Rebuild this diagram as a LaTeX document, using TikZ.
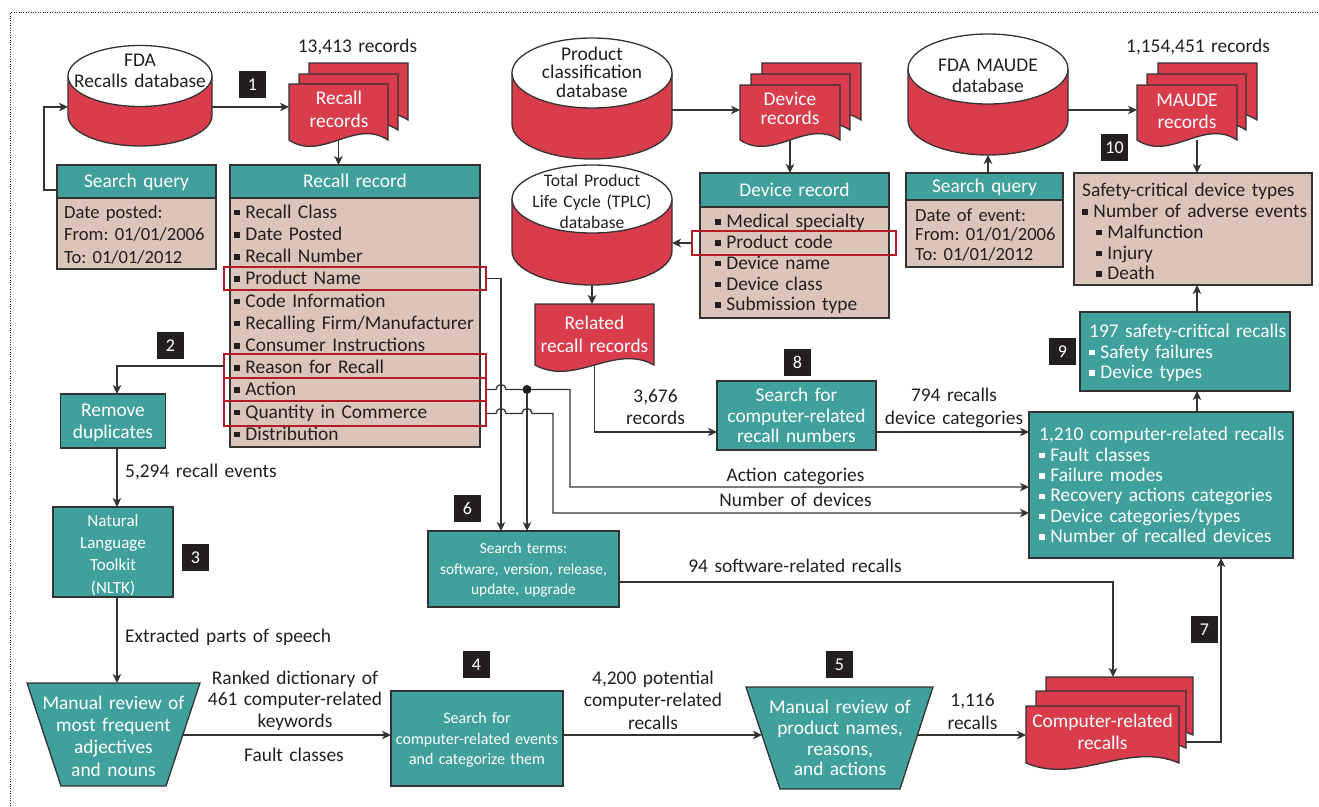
\documentclass[tikz,border=0pt]{standalone}
\usepackage{fontspec}
\setmainfont{Carlito}
\usetikzlibrary{arrows.meta,calc}
\definecolor{dbred}{RGB}{217,61,75}
\definecolor{teal2}{RGB}{64,160,156}
\definecolor{beige}{RGB}{219,197,186}
\definecolor{hlred}{RGB}{178,28,36}
\definecolor{lc}{RGB}{51,51,51}
\definecolor{tx}{RGB}{35,31,32}
\newcommand\fs[2]{\fontsize{#1}{#2}\selectfont}
\newcommand\bul{\rule[0.15em]{0.28em}{0.28em}\hspace{0.3em}}
\newcommand\tstrut{\rule[-0.22\baselineskip]{0pt}{\baselineskip}}
\newcommand\cyl[5]{%
  \fill[dbred] ({#1-#4},#2) -- ({#1-#4},#3) arc[start angle=180,end angle=360,x radius=#4pt,y radius=#5pt] -- ({#1+#4},#2) -- cycle;
  \draw[outl] ({#1-#4},#2) -- ({#1-#4},#3) arc[start angle=180,end angle=360,x radius=#4pt,y radius=#5pt] -- ({#1+#4},#2);
  \draw[outl,fill=white] (#1,#2) ellipse [x radius=#4pt, y radius=#5pt];}
\newcommand\docpage[4]{\draw[outl,fill=dbred] (#1,#3) -- (#2,#3) -- (#2,#4) .. controls ({#2-(#2-#1)/3},{#4-22}) and ({#1+(#2-#1)/3},{#4+22}) .. (#1,#4) -- cycle;}
\frenchspacing
\begin{document}
\begin{tikzpicture}[x=1pt,y=-1pt,
  outl/.style={draw=lc,line width=1.3pt},
  box0/.style={inner sep=0pt,outer sep=0pt},
  hdrbox/.style={box0,outl,fill=teal2},
  tbox/.style={box0,outl,fill=teal2},
  bbox/.style={box0,outl,fill=beige},
  hl/.style={box0,draw=hlred,line width=2pt},
  txt/.style={inner sep=0pt,text width=300pt,execute at begin node={\frenchspacing\tstrut},execute at end node=\tstrut,font=\fs{19.4}{22.2},text=tx},
  ctxt/.style={txt,align=center},
  ltxt/.style={txt,align=left,anchor=west},
  conn/.style={draw=lc,line width=1.3pt,-{Stealth[length=9pt,width=8.5pt,inset=2.5pt]}},
  num/.style={fill=tx,text=white,minimum size=27pt,inner sep=0pt,font=\fs{18}{18}},
  dot/.style={circle,fill=tx,inner sep=0pt,minimum size=9pt},
  ]
\useasboundingbox (0,0) rectangle (1319,806);
\draw[tx,line width=0.8pt,dash pattern=on 0.8pt off 1.6pt] (10.5,806) -- (10.5,12.5) -- (1319,12.5);

% ---------- databases
\cyl{140}{76}{115.5}{72}{30.5}
\node[box0,minimum width=144pt,minimum height=100pt] (fdadb) at (140,96) {};
\node[ctxt,font=\fs{19.4}{21}] (fdadbt) at (140,71.5) {FDA\\Recalls database};

\cyl{592}{73}{124}{80}{35}
\node[box0,minimum width=160pt,minimum height=121pt] (pcdb) at (592,98.5) {};
\node[ctxt,font=\fs{19.4}{18.5}] (pcdbt) at (592,73.5) {Product\\classification\\database};

\cyl{592}{199}{251}{80}{34}
\node[box0,minimum width=160pt,minimum height=120pt] (tplcdb) at (592,225) {};
\node[ctxt,font=\fs{17.6}{21}] (tplcdbt) at (592,202) {Total Product\\Life Cycle (TPLC)\\database};

\cyl{988}{69}{120}{80}{35}
\node[box0,minimum width=160pt,minimum height=121pt] (maudedb) at (988,94.5) {};
\node[ctxt,font=\fs{19.4}{21}] (maudedbt) at (988,76.5) {FDA MAUDE\\database};

% ---------- documents
\docpage{309}{408}{63}{120}
\docpage{299}{398}{74}{130}
\docpage{289}{388}{84}{140}
\node[box0,minimum width=99pt,minimum height=66pt] (recdoc) at (338.5,107) {};
\node[ctxt,text=white,font=\fs{19.4}{23}] (recdoct) at (339,109.5) {Recall\\records};
\node[ctxt] (l13) at (357.5,46.5) {13,413 records};

\docpage{762}{861}{63}{120}
\docpage{751}{850}{74}{130}
\docpage{740}{840}{85}{140}
\node[box0,minimum width=100pt,minimum height=60pt] (devrec) at (790,110) {};
\node[ctxt,text=white,font=\fs{19.4}{18.5}] (devrect) at (790,110) {Device\\records};

\docpage{1158}{1257}{63}{120}
\docpage{1147}{1246}{74}{130}
\docpage{1137}{1237}{85}{140}
\node[box0,minimum width=100pt,minimum height=60pt] (mauderec) at (1187,110) {};
\node[ctxt,text=white,font=\fs{19.4}{22}] (mauderect) at (1187,111) {MAUDE\\records};
\node[ctxt] (l1154) at (1198,46) {1,154,451 records};

\docpage{535}{654}{304}{365}
\node[box0,minimum width=119pt,minimum height=61pt] (relrec) at (594.5,334.5) {};
\node[ctxt,text=white,font=\fs{19.4}{23}] (relrect) at (594.5,334.5) {Related\\recall records};

\docpage{1046}{1193}{677}{735}
\docpage{1036}{1186}{691}{748}
\docpage{1026}{1179}{706}{763}
\node[box0,minimum width=147pt,minimum height=58pt] (comprecC) at (1119.5,706) {};
\node[box0,minimum width=150pt,minimum height=57pt] (comprecB) at (1111,719.5) {};
\node[box0,minimum width=153pt,minimum height=57pt] (comprec) at (1102.5,734.5) {};
\node[ctxt,text=white,font=\fs{19.4}{22}] (comprect) at (1102.5,732) {Computer-related\\recalls};

% ---------- record boxes
\node[hdrbox,minimum width=159pt,minimum height=33pt] (sq1h) at (136.5,181.5) {};
\node[ctxt,text=white] (sq1ht) at (136.5,181.5) {Search query};
\node[bbox,minimum width=159pt,minimum height=71pt] (sq1b) at (136.5,233.5) {};
\node[ltxt,font=\fs{18.6}{22.5}] (sq1bt) at (64,234.5) {Date posted:\\From: 01/01/2006\\To: 01/01/2012};

\node[hdrbox,minimum width=250pt,minimum height=33pt] (rrh) at (355,181.5) {};
\node[ctxt,text=white] (rrht) at (355,181.5) {Recall record};
\node[bbox,minimum width=250pt,minimum height=249pt] (rrb) at (355,322.5) {};
\node[ltxt] (rrbt) at (234,323) {\bul Recall Class\\\bul Date Posted\\\bul Recall Number\\\bul Product Name\\\bul Code Information\\\bul Recalling Firm/Manufacturer\\\bul Consumer Instructions\\\bul Reason for Recall\\\bul Action\\\bul Quantity in Commerce\\\bul Distribution};
\node[hl,minimum width=262pt,minimum height=23.5pt] (hlpn) at (355,278.5) {};
\node[hl,minimum width=262pt,minimum height=24pt] (hlrsn) at (355,366) {};
\node[hl,minimum width=262pt,minimum height=23pt] (hlact) at (355,389.5) {};
\node[hl,minimum width=262pt,minimum height=25pt] (hlqty) at (355,413.5) {};

\node[hdrbox,minimum width=189pt,minimum height=34pt] (drh) at (794.5,190) {};
\node[ctxt,text=white] (drht) at (794.5,190) {Device record};
\node[bbox,minimum width=189pt,minimum height=111pt] (drb) at (794.5,262.5) {};
\node[ltxt,font=\fs{19.4}{20.75}] (drbt) at (715,263.5) {\bul Medical specialty\\\bul Product code\\\bul Device name\\\bul Device class\\\bul Submission type};
\node[hl,minimum width=204pt,minimum height=24pt] (hlpc) at (794,243) {};

\node[hdrbox,minimum width=157pt,minimum height=27pt] (sq2h) at (984.5,186.5) {};
\node[ctxt,text=white] (sq2ht) at (984.5,186.5) {Search query};
\node[bbox,minimum width=157pt,minimum height=67pt] (sq2b) at (984.5,233.5) {};
\node[ltxt,font=\fs{18.6}{19.5}] (sq2bt) at (915,235.5) {Date of event:\\From: 01/01/2006\\To: 01/01/2012};

\node[bbox,minimum width=238pt,minimum height=112pt] (safety) at (1193,229) {};
\node[ltxt,font=\fs{19.4}{20.75}] (safetyt) at (1082,232.5) {Safety-critical device types\\\bul Number of adverse events\\\hspace*{14pt}\bul Malfunction\\\hspace*{14pt}\bul Injury\\\hspace*{14pt}\bul Death};

\node[tbox,minimum width=210pt,minimum height=79pt] (b197) at (1185,351.5) {};
\node[ltxt,text=white,font=\fs{19.4}{20.5}] (b197t) at (1089,352.5) {197 safety-critical recalls\\\bul Safety failures\\\bul Device types};

\node[tbox,minimum width=264pt,minimum height=146pt] (b1210) at (1161,485) {};
\node[ltxt,text=white,font=\fs{19.4}{20.4}] (b1210t) at (1039,486) {1,210 computer-related recalls\\\bul Fault classes\\\bul Failure modes\\\bul Recovery actions categories\\\bul Device categories/types\\\bul Number of recalled devices};

\node[tbox,minimum width=159pt,minimum height=69pt] (b8) at (796.5,415.5) {};
\node[ctxt,text=white,font=\fs{19.4}{20.5}] (b8t) at (796.5,416.5) {Search for\\computer-related\\recall numbers};

\node[tbox,minimum width=105pt,minimum height=54pt] (rmdup) at (113,421) {};
\node[ctxt,text=white,font=\fs{19.4}{22}] (rmdupt) at (113,421) {Remove\\duplicates};

\node[tbox,minimum width=120pt,minimum height=90pt] (nltk) at (113,552) {};
\node[ctxt,text=white,font=\fs{17}{22.3}] (nltkt) at (113,553.5) {Natural\\Language\\Toolkit\\(NLTK)};

\node[tbox,minimum width=191pt,minimum height=76pt] (st) at (523.5,569) {};
\node[ctxt,text=white,font=\fs{15.4}{20.5}] (stt) at (523.5,568.5) {Search terms:\\software, version, release,\\update, upgrade};

\node[tbox,minimum width=172pt,minimum height=95pt] (b4) at (477,738.5) {};
\node[ctxt,text=white,font=\fs{16}{20.5}] (b4t) at (477,738.5) {Search for\\computer-related events\\and categorize them};

\draw[outl,fill=teal2] (27,683) -- (200,683) -- (166,786) -- (61,786) -- cycle;
\node[ctxt,text=white,font=\fs{19.4}{22.3}] (t1) at (113.5,736.5) {Manual review of\\most frequent\\adjectives\\and nouns};
\draw[outl,fill=teal2] (746,687) -- (933,687) -- (900,789) -- (780,789) -- cycle;
\node[ctxt,text=white,font=\fs{19.4}{20.7}] (t2) at (840,739) {Manual review of\\product names,\\reasons,\\and actions};

% ---------- number labels
\node[num] (n1) at (252.5,84.5) {1};
\node[num] (n2) at (170.5,345.5) {2};
\node[num] (n3) at (195.5,557.5) {3};
\node[num] (n4) at (476.5,664.5) {4};
\node[num] (n5) at (839.5,664.5) {5};
\node[num] (n6) at (467.5,508.5) {6};
\node[num] (n7) at (1204.5,629.5) {7};
\node[num] (n8) at (797.5,362.5) {8};
\node[num] (n9) at (1062.5,351.5) {9};
\node[num] (n10) at (1114.5,147.5) {10};

% ---------- connector labels
\node[ltxt] (l5294) at (125,471) {5,294 recall events};
\node[ltxt] (lext) at (125,636) {Extracted parts of speech};
\node[ctxt,font=\fs{19.4}{21.5}] (lrank) at (295,699.5) {Ranked dictionary of\\461 computer-related\\keywords};
\node[ctxt] (lfault) at (294,755) {Fault classes};
\node[ctxt,font=\fs{19.4}{22.5}] (l4200) at (653,700.5) {4,200 potential\\computer-related\\recalls};
\node[ctxt,font=\fs{19.4}{23}] (l1116) at (972.5,711.5) {1,116\\recalls};
\node[ctxt,font=\fs{19.4}{22}] (l3676) at (655.5,407) {3,676\\records};
\node[ctxt,font=\fs{19.4}{22.5}] (l794) at (954,406.5) {794 recalls\\device categories};
\node[ctxt] (lact) at (795.5,475) {Action categories};
\node[ctxt] (lnum) at (795.5,500.5) {Number of devices};
\node[ctxt] (l94) at (795,566.5) {94 software-related recalls};

% ---------- helper coordinates
\coordinate (xl) at (117,0);
\coordinate (mdx) at (1197,0);
\coordinate (w1) at (501,0);
\coordinate (w2) at (527,0);
\coordinate (w3) at (553,0);
\coordinate (w4) at (570,0);
\coordinate (acty) at (0,487);
\coordinate (numy) at (0,513);
\coordinate (x94) at (1113,0);
\coordinate (t1top) at (113.5,683);
\coordinate (t1e) at (183,735);
\coordinate (t2w) at (762,735);
\coordinate (t2e) at (917.5,735);
\coordinate (c7) at (1221,742);
\coordinate (sq1hp) at ([yshift=-8.5pt]sq1h.west);
\coordinate (b8in) at ([yshift=-16.5pt]b8.west);
\coordinate (b8out) at ([yshift=-16.5pt]b8.east);
\coordinate (stout) at ([yshift=-13pt]st.east);

% ---------- connectors
\draw[conn] (fdadb.east |- recdoc.west) -- (recdoc.west);
\draw[conn] (recdoc.south) -- (recdoc.south |- rrh.north);
\draw[conn] (sq1hp) -- ++(-13,0) |- (fdadb.west |- recdoc.west);
\draw[conn] (pcdb.east |- devrec.west) -- (devrec.west);
\draw[conn] (devrec.south) -- (devrec.south |- drh.north);
\draw[conn] (hlpc.west) -- (tplcdb.east |- hlpc.west);
\draw[conn] (tplcdb.south) -- (tplcdb.south |- relrec.north);
\draw[conn] (relrec.south) |- (b8in);
\draw[conn] (b8out) -- (b8out -| b1210.west);
\draw[conn] (maudedb.east |- mauderec.west) -- (mauderec.west);
\draw[conn] (maudedb.south |- sq2h.north) -- (maudedb.south);
\draw[conn] (mdx |- mauderec.south) -- (mdx |- safety.north);
\draw[conn] (mdx |- b197.north) -- (mdx |- safety.south);
\draw[conn] (mdx |- b1210.north) -- (mdx |- b197.south);
\draw[conn] (comprecB.east |- c7) -- (c7) -- (c7 |- b1210.south);
\draw[conn] (t2e) -- (t2e -| comprec.west);
\draw[conn] (b4.east |- t2w) -- (t2w);
\draw[conn] (t1e) -- (t1e -| b4.west);
\draw[conn] (xl |- nltk.south) -- (xl |- t1top);
\draw[conn] (xl |- rmdup.south) -- (xl |- nltk.north);
\draw[conn] (hlrsn.west) -| (xl |- rmdup.north);
\draw[conn] (hlpn.east) -| (w1 |- st.north);
\draw[conn] (hlact.east) -- ++(10,0) arc[start angle=180,end angle=0,radius=5pt] -- (w4 |- hlact.east) |- (b1210.west |- acty);
\draw[conn] (hlqty.east) -- ++(10,0) arc[start angle=180,end angle=0,radius=5pt] -- ++(16,0) arc[start angle=180,end angle=0,radius=5pt] -- (w3 |- hlqty.east) |- (b1210.west |- numy);
\node[dot] (junc) at (w2 |- hlact.east) {};
\draw[conn] (junc) -- (junc |- st.north);
\draw[conn] (stout) -| (x94 |- comprecC.north);
\end{tikzpicture}
\end{document}
